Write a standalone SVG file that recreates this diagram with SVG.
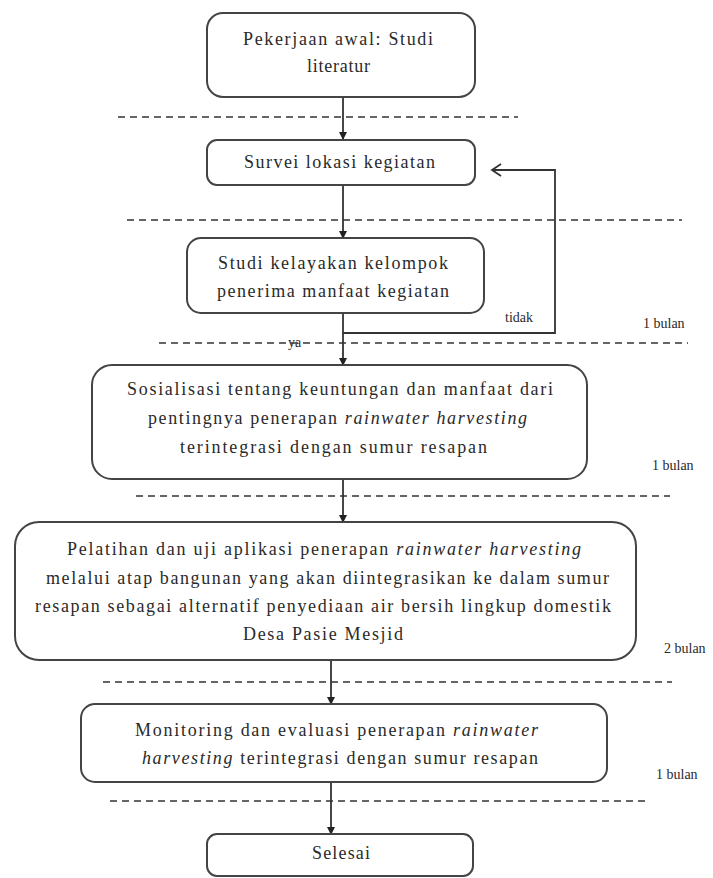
<svg xmlns="http://www.w3.org/2000/svg" width="713" height="878" viewBox="0 0 713 878" font-family="'Liberation Serif', 'DejaVu Serif', serif">
<style>
text{font-family:'Liberation Serif','Times New Roman','DejaVu Serif',serif}
.box{fill:#fff;stroke:#444;stroke-width:2}
.t{font-size:18px;fill:#2a2a2a}
.s{font-size:14px;fill:#2a2a2a}
.i{font-style:italic}
.dash{stroke:#333;stroke-width:1.6;stroke-dasharray:7,5;fill:none}
.ln{stroke:#333;stroke-width:1.8;fill:none}
</style>
<defs>
<marker id="ah" markerWidth="8" markerHeight="8" refX="7" refY="4" orient="auto" markerUnits="userSpaceOnUse">
<path d="M0,0 L8,4 L0,8 Z" fill="#222"/>
</marker>
<marker id="oh" markerWidth="12" markerHeight="14" refX="10" refY="7" orient="auto" markerUnits="userSpaceOnUse">
<path d="M1,1 L10,7 L1,13" fill="none" stroke="#333" stroke-width="1.8"/>
</marker>
</defs>
<rect width="713" height="878" fill="#fff"/>
<g id="dividers">
<line class="dash" x1="118" y1="117" x2="518" y2="117"/>
<line class="dash" x1="127" y1="220" x2="682" y2="220"/>
<line class="dash" x1="159" y1="343" x2="688" y2="343"/>
<line class="dash" x1="136" y1="496" x2="670" y2="496"/>
<line class="dash" x1="103" y1="682" x2="672" y2="682"/>
<line class="dash" x1="110" y1="801" x2="650" y2="801"/>
</g>
<g id="connectors">
<line class="ln" x1="343" y1="97" x2="343" y2="139" marker-end="url(#ah)"/>
<line class="ln" x1="343" y1="185" x2="343" y2="238" marker-end="url(#ah)"/>
<line class="ln" x1="343" y1="313" x2="343" y2="365" marker-end="url(#ah)"/>
<polyline class="ln" points="343,333 555,333 555,170 492,170" marker-end="url(#oh)"/>
<line class="ln" x1="343" y1="479" x2="343" y2="522" marker-end="url(#ah)"/>
<line class="ln" x1="331" y1="660" x2="331" y2="704" marker-end="url(#ah)"/>
<line class="ln" x1="331" y1="782" x2="331" y2="834" marker-end="url(#ah)"/>
</g>
<g id="n1">
<rect class="box" x="207" y="13" width="268" height="84" rx="16"/>
<text class="t" x="243" y="45" textLength="190" lengthAdjust="spacing">Pekerjaan  awal: Studi</text>
<text class="t" x="307" y="72" textLength="63" lengthAdjust="spacing">literatur</text>
</g>
<g id="n2">
<rect class="box" x="207" y="140" width="268" height="45" rx="10"/>
<text class="t" x="244" y="168" textLength="191" lengthAdjust="spacing">Survei lokasi kegiatan</text>
</g>
<g id="n3">
<rect class="box" x="187" y="238" width="297" height="75" rx="14"/>
<text class="t" x="218" y="269" textLength="230" lengthAdjust="spacing">Studi kelayakan  kelompok</text>
<text class="t" x="217" y="297" textLength="232" lengthAdjust="spacing">penerima  manfaat  kegiatan</text>
</g>
<g id="n4">
<rect class="box" x="92" y="365" width="495" height="114" rx="20"/>
<text class="t" x="127" y="395" textLength="426" lengthAdjust="spacing">Sosialisasi tentang  keuntungan  dan manfaat dari</text>
<text class="t" x="148" y="424" textLength="379" lengthAdjust="spacing">pentingnya penerapan <tspan class="i">rainwater harvesting</tspan></text>
<text class="t" x="180" y="453" textLength="307" lengthAdjust="spacing">terintegrasi  dengan sumur resapan</text>
</g>
<g id="n5">
<rect class="box" x="15" y="522" width="621" height="138" rx="24"/>
<text class="t" x="67" y="555" textLength="514" lengthAdjust="spacing">Pelatihan  dan uji aplikasi penerapan <tspan class="i">rainwater harvesting</tspan></text>
<text class="t" x="46" y="584" textLength="563" lengthAdjust="spacing">melalui atap bangunan yang akan diintegrasikan  ke dalam sumur</text>
<text class="t" x="35" y="612" textLength="576" lengthAdjust="spacing">resapan sebagai alternatif  penyediaan  air bersih lingkup domestik</text>
<text class="t" x="243" y="640" textLength="160" lengthAdjust="spacing">Desa Pasie Mesjid</text>
</g>
<g id="n6">
<rect class="box" x="81" y="704" width="526" height="78" rx="14"/>
<text class="t" x="135" y="736" textLength="403" lengthAdjust="spacing">Monitoring  dan evaluasi penerapan <tspan class="i">rainwater</tspan></text>
<text class="t" x="142" y="764" textLength="396" lengthAdjust="spacing"><tspan class="i">harvesting</tspan> terintegrasi  dengan sumur resapan</text>
</g>
<g id="n7">
<rect class="box" x="207" y="834" width="266" height="42" rx="10"/>
<text class="t" x="312" y="859" textLength="58" lengthAdjust="spacing">Selesai</text>
</g>
<g id="labels">
<text class="s" x="505" y="322">tidak</text>
<text class="s" x="288" y="347">ya</text>
<text class="s" x="643" y="328">1 bulan</text>
<text class="s" x="652" y="470">1 bulan</text>
<text class="s" x="664" y="653">2 bulan</text>
<text class="s" x="656" y="779">1 bulan</text>
</g>
</svg>
